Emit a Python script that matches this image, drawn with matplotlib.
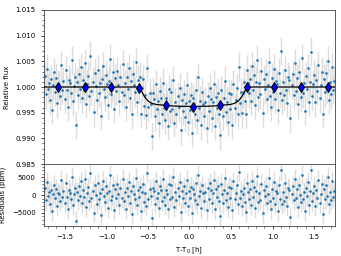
import numpy as np
import matplotlib
matplotlib.use('Agg')
import matplotlib.pyplot as plt
from matplotlib.ticker import MultipleLocator, FormatStrFormatter

# ── Data ───────────────────────────────────────────────────────────
# observation window (hours from mid-transit) and number of exposures
t_first, t_last, n_obs = -1.74, 1.74, 280

# transit model
model_t = [-1.75, -0.602, -0.57, -0.54, -0.50, -0.45, -0.40, -0.30, -0.20, -0.10,
           0.045, 0.19, 0.29, 0.39, 0.49, 0.54, 0.59, 0.63, 0.66, 0.692, 1.75]
model_f = [1.0, 1.0, 0.9990, 0.9981, 0.9973, 0.9968, 0.9966, 0.99645, 0.9963, 0.99625,
           0.9962, 0.99625, 0.9963, 0.99645, 0.9966, 0.9968, 0.9973, 0.9981, 0.9990, 1.0, 1.0]

# residuals (ppm), one per exposure
resid_ppm = [
    2100, -1400, 3600, -300, 800, -2600, 1500, -4400, 400, 2900, -900, 1800, -3200, 600, 300, -1700, 4200, -600, 1100, -2300,
    3300, -500, -3900, 1400, 700, -1200, 5200, -2800, 200, 1900, -7400, 900, -1500, 2600, -400, 3800, -2200, 1300, -600, 4600,
    -3300, 500, 2200, -1800, 6100, -800, 1000, -4900, 2700, 100, -2500, 3400, -1100, 700, -5600, 1600, 4000, -300, -2000, 2400,
    600, -3600, 1200, 5500, -1300, -200, 2900, -4200, 1700, -700, 3100, 400, -2700, 1900, -900, 4500, -1600, 800, -3800, 2000,
    -400, 3700, -2100, 1100, -5300, 2500, 300, -1000, 4800, -2900, 1400, -600, 2300, -4500, 900, 3000, -1900, 500, -3100, 6300,
    -1200, 1800, -200, -6400, 2100, 1000, -2400, 3900, -800, 700, -3500, 2600, 1300, -1700, 4400, -500, -2800, 1500, 200, -4000,
    3200, -1100, 2700, -600, 5000, -3300, 800, -1500, 1900, -200, 3600, -4700, 1200, -900, 2400, -2100, 600, 4100, -3000, 1000,
    -700, 2200, -5100, 1600, 400, -1400, 3300, -2600, 5700, -300, 1100, -3700, 2800, 500, -1800, 900, -4300, 2000, -1000, 3500,
    1300, -2300, 700, 4300, -3900, 1700, -500, 2500, -1600, -5800, 3000, 200, -2200, 1400, 4700, -1300, 600, -3400, 2200, -800,
    1900, -4100, 3800, -1000, 500, 2700, -2500, 6600, -700, 1200, -3200, 300, 2100, -1900, -4800, 3400, 800, -1200, 1600, -2700,
    4000, -600, 2300, -3600, 1000, 5300, -2000, 700, -1400, 3100, -5000, 1500, -300, 2600, -2300, 400, 4900, -1700, -3900, 1800,
    -900, 3600, -2400, 1100, 600, -4400, 2800, -1100, 7000, -2600, 900, -1600, 3300, -500, -3100, 2000, 1300, -6100, 400, 2500,
    -1500, 4600, -800, 1700, -3400, 2900, 100, -2000, 5600, -1200, 800, -4600, 2100, -400, 3700, -2900, 1000, 6900, -1800, 600,
    2400, -3000, 1400, -700, 4200, -2200, 300, 3000, -5200, 1600, -1000, 2700, -300, 5100, -2500, 900, -1400, 3900, -600, 1200,
]
err_ppm = 2800

# binned points
bin_t = [-1.58, -1.26, -0.94, -0.61, -0.28, 0.04, 0.37, 0.69, 1.02, 1.34, 1.67]
bin_f = [1.0000, 1.0000, 1.0000, 0.9999, 0.99645, 0.99617, 0.99645, 1.0000, 1.0000, 1.0000, 1.0000]
bin_err = 0.0004

# ── Derived ────────────────────────────────────────────────────────
t = np.linspace(t_first, t_last, n_obs)
res = np.array(resid_ppm, dtype=float)
flux = np.interp(t, model_t, model_f) + res * 1e-6

# ── Plot ───────────────────────────────────────────────────────────
plt.rcParams['font.size'] = 5
plt.rcParams['axes.linewidth'] = 0.6

fig = plt.figure(figsize=(3.41, 2.56), dpi=100)
gs = fig.add_gridspec(2, 1, height_ratios=[154, 62], hspace=0,
                      left=0.129, right=0.982, top=0.961, bottom=0.117)
ax1 = fig.add_subplot(gs[0])
ax2 = fig.add_subplot(gs[1], sharex=ax1)

ecol = '#dcdcdc'
ax1.errorbar(t, flux, yerr=err_ppm * 1e-6, fmt='none', ecolor=ecol, elinewidth=1.0, zorder=1)
ax1.plot(t, flux, '.', color='tab:blue', markersize=1.8, zorder=2)
ax1.plot(model_t, model_f, color='black', linewidth=0.9, zorder=3)
ax1.errorbar(bin_t, bin_f, yerr=bin_err, fmt='d', color='blue', markersize=5,
             markeredgecolor='black', markeredgewidth=0.7, ecolor='black',
             elinewidth=0.8, zorder=4)

ax1.set_ylim(0.985, 1.015)
ax1.yaxis.set_major_locator(MultipleLocator(0.005))
ax1.yaxis.set_minor_locator(MultipleLocator(0.001))
ax1.yaxis.set_major_formatter(FormatStrFormatter('%.3f'))
ax1.set_ylabel('Relative flux', fontsize=5)
ax1.tick_params(labelbottom=False)

ax2.errorbar(t, res, yerr=err_ppm, fmt='none', ecolor=ecol, elinewidth=1.0, zorder=1)
ax2.plot(t, res, '.', color='tab:blue', markersize=1.8, zorder=2)
ax2.set_ylim(-8700, 8700)
ax2.yaxis.set_major_locator(MultipleLocator(5000))
ax2.yaxis.set_minor_locator(MultipleLocator(1000))
ax2.set_ylabel('Residuals (ppm)', fontsize=5)
ax2.set_xlabel('T-T$_0$ [h]', fontsize=5)

ax1.set_xlim(-1.75, 1.75)
ax2.xaxis.set_major_locator(MultipleLocator(0.5))
ax2.xaxis.set_minor_locator(MultipleLocator(0.1))

for ax in (ax1, ax2):
    ax.tick_params(which='major', length=2.5, width=0.5, labelsize=5)
    ax.tick_params(which='minor', length=1.5, width=0.4)
    for s in ax.spines.values():
        s.set_color('#444444')

fig.savefig('out.png', dpi=100)
